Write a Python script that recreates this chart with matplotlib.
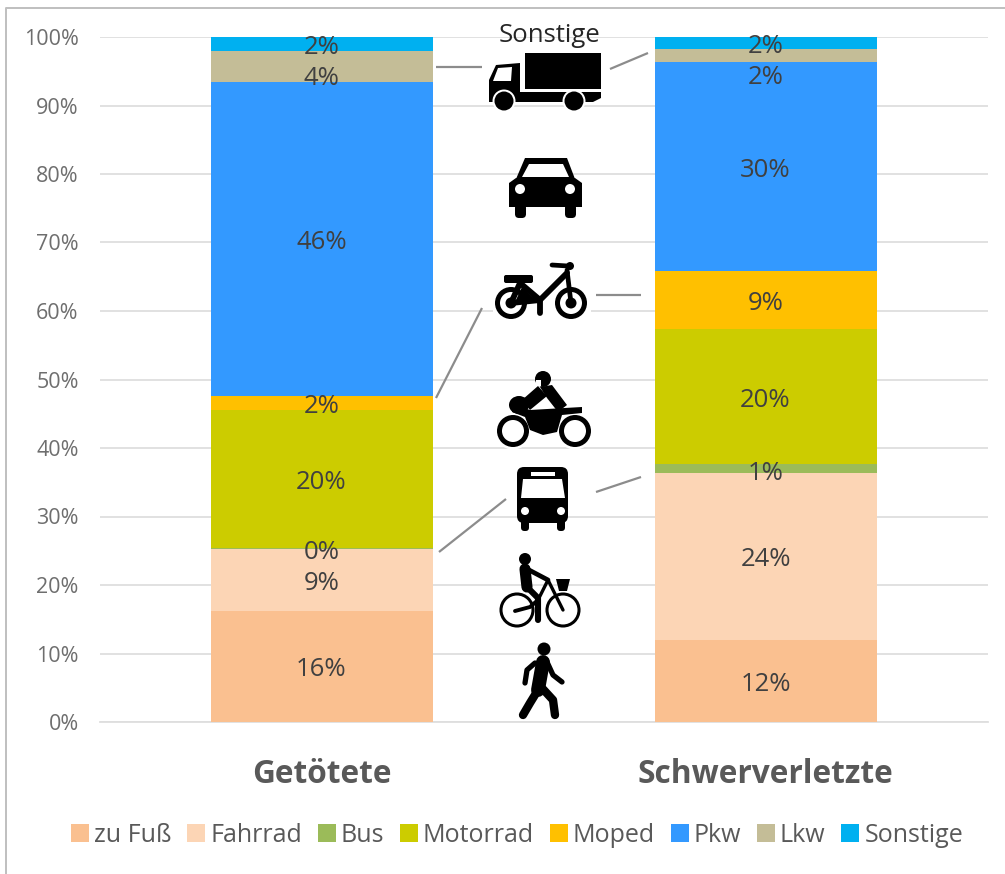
import matplotlib
matplotlib.use("Agg")
import matplotlib.pyplot as plt
from matplotlib.patches import Circle, Ellipse, Polygon, Rectangle, FancyBboxPatch

plt.rcParams['font.family'] = ['Open Sans', 'DejaVu Sans']

# Daten
kategorien = ['Getötete', 'Schwerverletzte']
zu_fuss = [16.2, 12.0]
fahrrad = [9.0, 24.3]
bus = [0.2, 1.3]
motorrad = [20.2, 19.7]
moped = [2.0, 8.5]
pkw = [45.9, 30.5]
lkw = [4.5, 1.9]
sonstige = [2.0, 1.8]

serien = [zu_fuss, fahrrad, bus, motorrad, moped, pkw, lkw, sonstige]
namen = ['zu Fuß', 'Fahrrad', 'Bus', 'Motorrad', 'Moped', 'Pkw', 'Lkw', 'Sonstige']
farben = ['#FAC090', '#FCD5B5', '#9BBB59', '#CCCC00', '#FFC000', '#3399FF', '#C4BD97', '#00B0F0']
etiketten = [['16%', '12%'], ['9%', '24%'], ['0%', '1%'], ['20%', '20%'],
             ['2%', '9%'], ['46%', '30%'], ['4%', '2%'], ['2%', '2%']]
# von Hand verschobene Beschriftungen, in Prozentpunkten (wie im Original)
verschiebung = {(6, 0): -1.3, (6, 1): -2.7, (2, 1): -0.2, (4, 0): 0.0}
y_ticks = list(range(0, 101, 10))

TEXT = '#595959'
LINIE = '#8C8C8C'

fig = plt.figure(figsize=(10.05, 8.74), dpi=100, facecolor='white')
ax = fig.add_axes([99.5 / 1005, 1 - 722 / 874, 888 / 1005, 685 / 874])

unten = [0, 0]
for i, werte in enumerate(serien):
    ax.bar(range(2), werte, 0.5, bottom=unten, color=farben[i], label=namen[i], zorder=3)
    for k in range(2):
        y = unten[k] + werte[k] / 2 + verschiebung.get((i, k), 0) - 0.5
        ax.text(k, y, etiketten[i][k], ha='center', va='center', fontsize=18.5, color='#404040', zorder=4)
    unten = [unten[0] + werte[0], unten[1] + werte[1]]

ax.set_xlim(-0.5, 1.5)
ax.set_ylim(0, 100)
ax.set_yticks(y_ticks)
ax.set_yticklabels([f'{t}%' for t in y_ticks], fontsize=15.5, color='#6E6E6E')
ax.set_xticks(range(2))
ax.set_xticklabels(kategorien, fontsize=22.8, fontweight='bold', color=TEXT)
ax.tick_params(axis='both', length=0)
ax.tick_params(axis='y', pad=15)
ax.tick_params(axis='x', pad=26)
ax.grid(axis='y', color='#DEDEDE', linewidth=1.3, zorder=0)
ax.set_axisbelow(True)
for s in ['top', 'right', 'left']:
    ax.spines[s].set_visible(False)
ax.spines['bottom'].set_color('#DEDEDE')
ax.spines['bottom'].set_linewidth(1.3)

leg = fig.legend(loc='center', bbox_to_anchor=(517 / 1005, 1 - 835 / 874), ncol=8, frameon=False,
                 fontsize=18, labelcolor=TEXT, handlelength=0.72, handleheight=0.72,
                 handletextpad=0.2, columnspacing=0.63, borderpad=0)

# Overlay in Pixelkoordinaten für Symbole und Verbindungslinien
ov = fig.add_axes([0, 0, 1, 1], facecolor='none')
ov.set_xlim(0, 1005)
ov.set_ylim(874, 0)
ov.axis('off')


def poly(pts, c='black', z=5):
    ov.add_patch(Polygon(pts, closed=True, fc=c, ec='none', zorder=z))


def kreis(x, y, r, c='black', z=5):
    ov.add_patch(Circle((x, y), r, fc=c, ec='none', zorder=z))


def strich(pts, lw=3.0, c='black', z=5):
    ov.plot([p[0] for p in pts], [p[1] for p in pts], color=c, lw=lw, zorder=z,
            solid_capstyle='round', solid_joinstyle='round')


def rund(x0, y0, x1, y1, r=2, c='black', z=5):
    ov.add_patch(FancyBboxPatch((x0 + r, y0 + r), x1 - x0 - 2 * r, y1 - y0 - 2 * r,
                                boxstyle=f'round,pad={r}', fc=c, ec='none', zorder=z))


def rad(x, y, r, innen, z=6):
    kreis(x, y, r + 2.5, 'white', z - 1)
    kreis(x, y, r, 'black', z)
    kreis(x, y, innen, 'white', z + 0.1)


# Verbindungslinien
for a, b in [((436, 67), (482, 67)), ((610, 69), (648, 53)), ((596, 295), (641, 295)),
             ((482, 308), (436, 398)), ((506, 499), (439, 552)), ((596, 492), (641, 477))]:
    ov.plot([a[0], b[0]], [a[1], b[1]], color=LINIE, lw=1.6, zorder=5, solid_capstyle='butt')

ov.text(550, 35, 'Sonstige', ha='center', va='center', fontsize=18.5, color='#262626', zorder=7)

# Lkw
ov.add_patch(Rectangle((525, 53), 76, 36, fc='black', ec='none', zorder=5))
poly([(489, 80), (496, 65), (520, 63), (520, 92), (601, 92), (601, 98), (593, 102), (489, 102)])
poly([(493, 81), (498, 68), (512, 67), (511, 81)], 'white', 5.5)
kreis(504, 101, 9.5, 'black', 6)
kreis(574, 101, 9.5, 'black', 6)
kreis(504, 101, 11.5, 'white', 5.5)
kreis(574, 101, 11.5, 'white', 5.5)

# Pkw
poly([(516, 179), (525, 158), (567, 158), (575, 179)])
poly([(522, 177), (529, 164), (563, 164), (569, 177)], 'white', 5.5)
poly([(509, 183), (516, 178), (575, 178), (582, 183), (582, 207), (509, 207)])
kreis(520, 189, 5, 'white', 5.5)
kreis(570, 189, 5, 'white', 5.5)
rund(515, 204, 526, 218, 4)
rund(565, 204, 576, 218, 4)

# Moped
ov.add_patch(Rectangle((493, 262), 98, 60, fc='white', ec='none', zorder=4.5))
rad(511, 303, 16, 11, 5)
kreis(511, 303, 5.5, 'black', 5.5)
rad(571, 303, 16, 11, 5)
kreis(571, 303, 5.5, 'black', 5.5)
rund(504, 275, 533, 283, 2)
strich([(511, 303), (520, 283), (540, 300), (567, 273)], 4.2, z=6)
strich([(511, 303), (540, 300), (540, 313)], 4.2, z=6)
poly([(516, 300), (522, 287), (536, 300)], 'black', 6)
strich([(567, 270), (571, 303)], 3.4, z=6)
strich([(552, 265), (568, 266)], 3.4, z=6)
kreis(570, 266, 4, 'black', 6)

# Motorrad
rad(513, 431, 16, 11, 5)
rad(575, 431, 16, 11, 5)
kreis(543, 379, 8)
poly([(536, 380), (541, 380), (541, 386), (536, 386)], 'white', 5.5)
poly([(540, 387), (552, 385), (567, 405), (558, 412), (547, 398)])
poly([(538, 386), (547, 396), (530, 410), (522, 400)])
ov.add_patch(Ellipse((519, 405), 20, 18, fc='black', ec='none', zorder=5))
poly([(530, 410), (582, 407), (582, 413), (562, 415), (557, 432),
      (543, 435), (530, 430), (525, 417), (512, 412), (512, 404)], 'black', 6.5)

# Bus
rund(517, 467, 568, 523, 7)
poly([(523, 479), (562, 479), (565, 498), (521, 498)], 'white', 5.5)
ov.add_patch(Rectangle((531, 472), 24, 4, fc='white', ec='none', zorder=5.5))
kreis(525, 511, 4, 'white', 5.5)
kreis(561, 511, 4, 'white', 5.5)
rund(521, 518, 529, 531, 3.5)
rund(557, 518, 565, 531, 3.5)

# Fahrrad
for x, y, r in [(517, 610, 16), (563, 610, 16)]:
    ov.add_patch(Circle((x, y), r, fc='white', ec='black', lw=2.2, zorder=5))
kreis(525, 559, 6, 'black', 6)
strich([(525, 569), (527, 587)], 8, z=6)
strich([(529, 570), (548, 580)], 3.4, z=6)
strich([(527, 587), (538, 598), (538, 620)], 4.4, z=6)
strich([(548, 580), (538, 600)], 2.4, z=6)
strich([(548, 580), (563, 610)], 2.4, z=6)
strich([(515, 611), (530, 607), (538, 600)], 2.8, z=6)
poly([(556, 579), (570, 579), (567, 591), (559, 591)], 'black', 6)

# Fußgänger
kreis(544, 649, 6.5)
strich([(543, 662), (538, 690)], 10)
strich([(535, 663), (527, 670), (525, 683)], 3.8)
strich([(547, 662), (553, 675), (562, 682)], 3.8)
strich([(538, 690), (530, 703), (523, 715)], 6)
strich([(542, 688), (553, 700), (555, 715)], 6)

# Rahmen links und oben
ov.plot([6, 6, 1005], [874, 8, 8], color='#BFBFBF', lw=1.4, zorder=1)

fig.savefig('out.png', dpi=100)
plt.close(fig)
